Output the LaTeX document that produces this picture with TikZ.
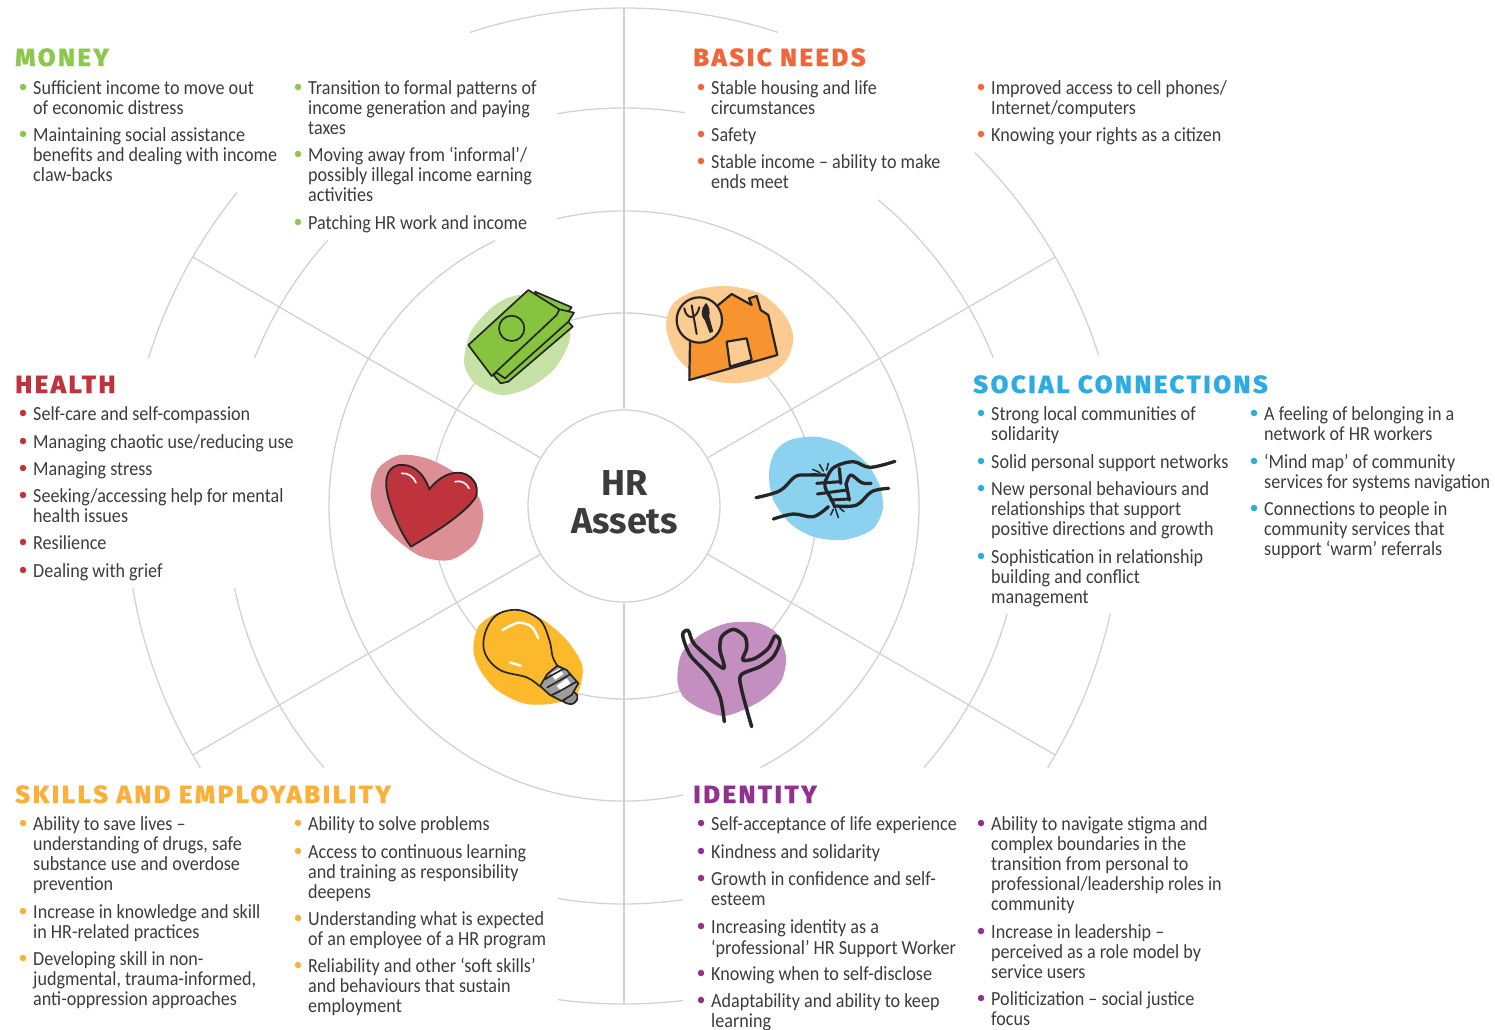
\documentclass[tikz,border=0pt]{standalone}
\usepackage{fontspec}
\setmainfont{Carlito}
\newfontfamily\bodyfont[FakeStretch=0.905]{Carlito}
\newfontfamily\ttlfont[LetterSpace=10,FakeStretch=1.03,FakeBold=0.5]{Fira Sans ExtraBold}
\newfontfamily\hrfont{Fira Sans}
\definecolor{cMoney}{HTML}{8CC84B}
\definecolor{cBasic}{HTML}{F2653A}
\definecolor{cHealth}{HTML}{BF333C}
\definecolor{cSocial}{HTML}{2CACE3}
\definecolor{cSkills}{HTML}{FBB03B}
\definecolor{cIdent}{HTML}{93328E}
\definecolor{cText}{HTML}{3C3C3C}
\definecolor{cLine}{HTML}{D2D2D2}
\definecolor{cInk}{HTML}{262626}
\definecolor{cNote}{HTML}{86C440}
\definecolor{cNoteBg}{HTML}{C6E1A6}
\definecolor{cHouse}{HTML}{F7942F}
\definecolor{cHouseBg}{HTML}{FBCB91}
\definecolor{cBulbBg}{HTML}{FDB92C}
\newcounter{itemc}
\newcommand{\bl}[4]{\stepcounter{itemc}%
  \node[bulletdot,fill=#3] (b\theitemc) at (#1+4,#2) {};
  \node[itemtext] (t\theitemc) at (#1+14,#2-7.2) {\strut #4};}
\newcommand{\garc}[3]{\draw[ring] (c) ++(-#2:#1) arc[start angle=-#2,end angle=-#3,radius=#1];}
\tikzset{
  bulletdot/.style={circle,inner sep=0pt,minimum size=6.5pt,draw=none},
  itemtext/.style={anchor=north west,inner sep=0pt,align=left,text=cText,
    font=\bodyfont\fontsize{20}{20.2}\selectfont},
  ttl/.style={anchor=base west,inner sep=0pt,font=\ttlfont\fontsize{25}{25}\selectfont},
  ring/.style={draw=cLine,line width=1.3pt},
  spoke/.style={draw=cLine,line width=1.6pt},
  ink/.style={draw=cInk,line cap=round,line join=round},
}
\begin{document}
\begin{tikzpicture}[x=1pt,y=1pt,yscale=-1]
\useasboundingbox (0,0) rectangle (1495,1029);
\coordinate (c) at (624,506);
% rings
\garc{498}{108}{72}
\garc{498}{45.2}{17.6}
\garc{498}{-12.5}{-31.7}
\garc{498}{262.4}{276.8}
\garc{498}{189.5}{211.7}
\garc{498}{141}{162.7}
\garc{398}{99.7}{81.2}
\garc{398}{50.3}{21.9}
\garc{398}{-15.7}{-41.1}
\garc{398}{260.4}{278.5}
\garc{398}{191.9}{221.1}
\garc{398}{138.1}{158.2}
\garc{295}{103.1}{-62.5}
\garc{295}{-78.4}{-244.1}
\draw[ring] (c) circle[radius=193];
\node[circle,draw=cLine,line width=1.3pt,fill=white,minimum size=192pt,inner sep=0pt] (hub) at (c) {};
% spokes
\coordinate (sN) at (624,8);
\coordinate (sS) at (624,1004);
\coordinate (sNE) at (1055.3,257);
\coordinate (sSE) at (1055.3,755);
\coordinate (sNW) at (192.7,257);
\coordinate (sSW) at (192.7,755);
\draw[spoke] (sN) -- (hub.north);
\draw[spoke] (hub.south) -- (sS);
\draw[ring] (sNE) -- (hub.30);
\draw[ring] (sSE) -- (hub.-30);
\draw[ring] (sNW) -- (hub.150);
\draw[ring] (sSW) -- (hub.210);
\node[align=center,inner sep=0pt,text=cText,font=\hrfont\bfseries\fontsize{36}{38}\selectfont] (hrassets) at (624.7,502) {HR\\Assets};
% money icon
\begin{scope}[shift={(440,270)},scale=1/3]
\fill[fill=cNoteBg] plot[smooth cycle] coordinates {(73,260) (95,180) (165,105) (240,75) (340,100) (388,165) (385,225) (340,300) (265,355) (185,375) (110,345) (78,300)};
\filldraw[ink,fill=cNote,line width=1.7pt] (285,65) -- (395,112) -- (370,145) -- (300,100) -- cycle;
\filldraw[ink,fill=cNote,line width=1.7pt] (182,340) -- (160,315) -- (385,155) -- (398,170) -- (205,335) -- cycle;
\filldraw[ink,fill=cNote,line width=1.7pt] (165,305) -- (358,118) -- (402,128) -- (385,155) -- (195,325) -- cycle;
\filldraw[ink,fill=cNote,line width=1.7pt] (85,225) -- (265,60) -- (358,118) -- (350,135) -- (155,318) -- cycle;
\draw[ink,line width=1.7pt] (215,175) circle[radius=38];
\end{scope}
% house icon
\begin{scope}[shift={(440,270)},scale=1/3]
\fill[fill=cHouseBg] plot[smooth cycle] coordinates {(678,170) (700,100) (770,60) (860,48) (960,70) (1030,130) (1060,200) (1040,270) (980,320) (880,340) (780,320) (710,260)};
\filldraw[ink,fill=cHouse,line width=2.2pt] (750,215) -- (748,330) -- (1012,255) -- (985,135) -- (962,120) -- (950,78) -- (927,85) -- (935,105) -- (875,72) -- (835,105) -- cycle;
\filldraw[ink,fill=cHouseBg,line width=2.2pt] (860,215) -- (920,205) -- (935,270) -- (870,290) -- cycle;
\filldraw[ink,fill=cHouseBg,line width=2.2pt] (778,150) circle[radius=68];
\draw[ink,line width=2pt] (733,115) .. controls (738,150) and (770,150) .. (778,112);
\draw[ink,line width=2pt] (755,106) -- (770,192);
\filldraw[ink,fill=cInk,line width=1pt] (798,101) .. controls (782,120) and (784,140) .. (796,150) -- (810,187) -- (818,184) -- (806,140) .. controls (809,122) and (806,110) .. (798,101) -- cycle;
\end{scope}
% heart icon
\begin{scope}[shift={(350,430)},scale=1/3]
\fill[fill=cHealth!55!white] plot[smooth cycle] coordinates {(62,190) (85,115) (150,75) (230,85) (310,125) (380,190) (400,260) (375,340) (300,390) (210,378) (130,320) (80,260)};
\filldraw[ink,fill=cHealth,line width=1.8pt] (238,178) .. controls (220,125) and (185,100) .. (145,105) .. controls (105,115) and (100,160) .. (120,220) .. controls (135,270) and (160,320) .. (183,350) .. controls (250,310) and (340,255) .. (375,205) .. controls (395,165) and (360,125) .. (320,128) .. controls (285,130) and (255,155) .. (238,178) -- cycle;
\draw[draw=white,line width=1.7pt,line cap=round] (155,130) .. controls (175,128) and (190,140) .. (198,158);
\draw[draw=white,line width=1.7pt,line cap=round] (315,155) .. controls (335,150) and (350,160) .. (357,175);
\end{scope}
% fist icon
\begin{scope}[shift={(740,420)},scale=1/3]
\fill[fill=cSocial!55!white] plot[smooth cycle] coordinates {(87,160) (105,95) (150,60) (230,50) (310,75) (380,130) (420,200) (428,270) (395,330) (310,360) (220,350) (150,310) (100,240)};
\draw[ink,line width=3.3pt] plot[smooth,tension=0.6] coordinates {(48,233) (120,212) (165,170) (200,165) (255,165)};
\draw[ink,line width=3.3pt] plot[smooth,tension=0.6] coordinates {(100,297) (160,282) (220,290) (265,260)};
\draw[ink,line width=3.3pt] plot[smooth,tension=0.6] coordinates {(465,124) (390,142) (340,125) (285,140) (262,170) (255,200) (275,240) (285,262)};
\draw[ink,line width=3.3pt] plot[smooth,tension=0.6] coordinates {(446,205) (395,215) (350,255) (290,258)};
\draw[ink,line width=3.3pt] (298,145) -- (302,190) (318,190) -- (328,240);
\draw[ink,line width=3pt] (230,190) -- (300,185) (232,222) -- (320,210) (272,240) -- (328,237);
\draw[ink,line width=3.3pt] plot[smooth,tension=0.6] coordinates {(318,195) (332,165) (365,188) (393,190)};
\draw[ink,line width=1.5pt] (218,148) -- (240,158) (238,133) -- (250,153) (265,130) -- (260,150) (272,285) -- (280,268) (295,293) -- (287,268) (312,275) -- (300,265);
\end{scope}
% bulb icon
\begin{scope}[shift={(460,600)},scale=1/3]
\fill[fill=cBulbBg] plot[smooth cycle] coordinates {(40,150) (55,80) (110,40) (175,30) (250,60) (320,120) (365,190) (365,240) (345,290) (270,312) (190,310) (110,270) (60,210)};
\draw[ink,line width=1.7pt] plot[smooth,tension=0.6] coordinates {(238,258) (200,232) (120,210) (75,160) (75,100) (110,45) (175,30) (240,60) (268,120) (278,170) (292,197)};
\draw[draw=white,line width=2.4pt,line cap=round] plot[smooth] coordinates {(128,90) (175,68) (215,80) (235,115)};
\draw[draw=white,line width=2.4pt,line cap=round] (150,187) -- (182,197);
\filldraw[ink,fill=cInk!50!white,line width=1.7pt] (310,305) .. controls (335,320) and (355,310) .. (352,285) -- (335,270) -- cycle;
\filldraw[ink,fill=cInk!45!white,line width=1.7pt] (292,197) -- (320,210) -- (355,250) -- (335,285) -- (305,303) -- (270,285) -- (240,258) -- (262,222) -- cycle;
\fill[white] (272,220) -- (300,205) -- (310,222) -- (285,240) -- cycle;
\fill[white] (290,258) -- (320,235) -- (332,250) -- (305,275) -- cycle;
\draw[ink,line width=1.7pt] (255,238) .. controls (275,225) and (295,215) .. (310,207);
\draw[ink,line width=1.7pt] (262,262) .. controls (285,250) and (310,235) .. (332,222);
\draw[ink,line width=1.7pt] (275,285) .. controls (300,275) and (330,255) .. (350,245);
\end{scope}
% person icon
\begin{scope}[shift={(460,600)},scale=1/3]
\fill[fill=cIdent!55!white] plot[smooth cycle] coordinates {(652,240) (665,160) (720,105) (800,70) (890,68) (950,100) (978,170) (965,240) (920,290) (860,325) (790,348) (720,325) (670,290)};
\draw[ink,line width=3.5pt] plot[smooth,tension=0.5] coordinates {(793,365) (780,290) (745,225) (690,165) (668,105) (685,92) (705,135) (790,205) (780,150) (785,110) (820,88) (855,110) (860,145) (848,180) (885,175) (925,145) (945,108) (960,125) (940,170) (900,200) (843,225) (845,270) (875,380)};
\end{scope}
% titles
\node[ttl,text=cMoney] (tMoney) at (15,66) {MONEY};
\node[ttl,text=cBasic] (tBasic) at (693,66) {BASIC NEEDS};
\node[ttl,text=cHealth] (tHealth) at (15,393) {HEALTH};
\node[ttl,text=cSocial] (tSocial) at (973,393) {SOCIAL CONNECTIONS};
\node[ttl,text=cSkills] (tSkills) at (15,803) {SKILLS AND EMPLOYABILITY};
\node[ttl,text=cIdent] (tIdent) at (693,803) {IDENTITY};
% money
\bl{19}{87}{cMoney}{Sufficient income to move out\\of economic distress}
\bl{19}{134}{cMoney}{Maintaining social assistance\\benefits and dealing with income\\claw-backs}
\bl{294}{87}{cMoney}{Transition to formal patterns of\\income generation and paying\\taxes}
\bl{294}{154}{cMoney}{Moving away from ‘informal’/\\possibly illegal income earning\\activities}
\bl{294}{222}{cMoney}{Patching HR work and income}
% basic needs
\bl{697}{87}{cBasic}{Stable housing and life\\circumstances}
\bl{697}{134}{cBasic}{Safety}
\bl{697}{161}{cBasic}{Stable income – ability to make\\ends meet}
\bl{977}{87}{cBasic}{Improved access to cell phones/\\Internet/computers}
\bl{977}{134}{cBasic}{Knowing your rights as a citizen}
% health
\bl{19}{413}{cHealth}{Self-care and self-compassion}
\bl{19}{441}{cHealth}{Managing chaotic use/reducing use}
\bl{19}{468}{cHealth}{Managing stress}
\bl{19}{495}{cHealth}{Seeking/accessing help for mental\\health issues}
\bl{19}{542}{cHealth}{Resilience}
\bl{19}{570}{cHealth}{Dealing with grief}
% social
\bl{977}{413}{cSocial}{Strong local communities of\\solidarity}
\bl{977}{461}{cSocial}{Solid personal support networks}
\bl{977}{488}{cSocial}{New personal behaviours and\\relationships that support\\positive directions and growth}
\bl{977}{556}{cSocial}{Sophistication in relationship\\building and conflict\\management}
\bl{1250}{413}{cSocial}{A feeling of belonging in a\\network of HR workers}
\bl{1250}{461}{cSocial}{‘Mind map’ of community\\services for systems navigation}
\bl{1250}{508}{cSocial}{Connections to people in\\community services that\\support ‘warm’ referrals}
% skills
\bl{19}{823}{cSkills}{Ability to save lives –\\understanding of drugs, safe\\substance use and overdose\\prevention}
\bl{19}{911}{cSkills}{Increase in knowledge and skill\\in HR-related practices}
\bl{19}{958}{cSkills}{Developing skill in non-\\judgmental, trauma-informed,\\anti-oppression approaches}
\bl{294}{823}{cSkills}{Ability to solve problems}
\bl{294}{851}{cSkills}{Access to continuous learning\\and training as responsibility\\deepens}
\bl{294}{918}{cSkills}{Understanding what is expected\\of an employee of a HR program}
\bl{294}{965}{cSkills}{Reliability and other ‘soft skills’\\and behaviours that sustain\\employment}
% identity
\bl{697}{823}{cIdent}{Self-acceptance of life experience}
\bl{697}{851}{cIdent}{Kindness and solidarity}
\bl{697}{878}{cIdent}{Growth in confidence and self-\\esteem}
\bl{697}{926}{cIdent}{Increasing identity as a\\‘professional’ HR Support Worker}
\bl{697}{973}{cIdent}{Knowing when to self-disclose}
\bl{697}{1000}{cIdent}{Adaptability and ability to keep\\learning}
\bl{977}{823}{cIdent}{Ability to navigate stigma and\\complex boundaries in the\\transition from personal to\\professional/leadership roles in\\community}
\bl{977}{931}{cIdent}{Increase in leadership –\\perceived as a role model by\\service users}
\bl{977}{998}{cIdent}{Politicization – social justice\\focus}
\end{tikzpicture}
\end{document}
